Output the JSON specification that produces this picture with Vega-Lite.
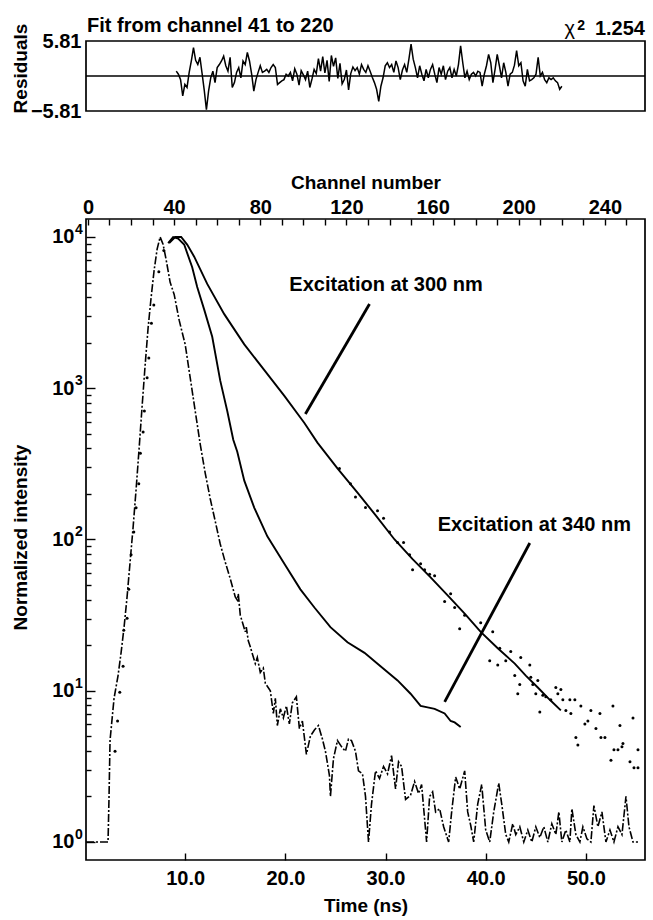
{
  "$schema": "https://vega.github.io/schema/vega-lite/v6.json",
  "background": "white",
  "padding": {"left": 10, "top": 15, "right": 2, "bottom": 2},
  "spacing": 50,
  "config": {
    "font": "Liberation Sans",
    "view": {"stroke": "black", "strokeWidth": 1.7},
    "axis": {
      "labelFont": "Liberation Sans", "labelFontSize": 20, "labelFontWeight": "bold", "labelColor": "black",
      "titleFont": "Liberation Sans", "titleFontSize": 19, "titleFontWeight": "bold", "titleColor": "black",
      "domain": false, "grid": false, "tickColor": "black", "tickWidth": 1.4,
      "labelOverlap": false, "labelBound": false, "labelFlush": false
    },
    "text": {"font": "Liberation Sans", "fontSize": 20, "fontWeight": "bold", "color": "black"}
  },
  "datasets": {
    "residuals": [
      {"channel":41,"r":0.8},{"channel":42,"r":0.3},{"channel":43,"r":-0.6},{"channel":44,"r":-3.3},{"channel":45,"r":-1.4},{"channel":46,"r":-1.9},{"channel":47,"r":0.6},{"channel":48,"r":2.5},{"channel":49,"r":4.7},{"channel":50,"r":2.6},
      {"channel":51,"r":1.9},{"channel":52,"r":3.1},{"channel":53,"r":0.4},{"channel":54,"r":-2.4},{"channel":55,"r":-5.6},{"channel":56,"r":-2.5},{"channel":57,"r":-0.3},{"channel":58,"r":0.8},{"channel":59,"r":-1.1},{"channel":60,"r":1.4},
      {"channel":61,"r":1.9},{"channel":62,"r":2.5},{"channel":63,"r":3.3},{"channel":64,"r":1.7},{"channel":65,"r":0.8},{"channel":66,"r":3.1},{"channel":67,"r":-1.9},{"channel":68,"r":-1.1},{"channel":69,"r":0.6},{"channel":70,"r":1.4},
      {"channel":71,"r":-0.3},{"channel":72,"r":2.5},{"channel":73,"r":1.9},{"channel":74,"r":3.9},{"channel":75,"r":2.5},{"channel":76,"r":0.3},{"channel":77,"r":-2.5},{"channel":78,"r":-0.6},{"channel":79,"r":0.6},{"channel":80,"r":1.7},
      {"channel":81,"r":0.6},{"channel":82,"r":0.8},{"channel":83,"r":1.1},{"channel":84,"r":0.6},{"channel":85,"r":1.4},{"channel":86,"r":1.9},{"channel":87,"r":1.4},{"channel":88,"r":-1.4},{"channel":89,"r":-1.1},{"channel":90,"r":-0.8},
      {"channel":91,"r":-0.6},{"channel":92,"r":0.3},{"channel":93,"r":0.0},{"channel":94,"r":0.6},{"channel":95,"r":-0.8},{"channel":96,"r":1.2},{"channel":97,"r":0.3},{"channel":98,"r":-1.5},{"channel":99,"r":0.9},{"channel":100,"r":0.2},
      {"channel":101,"r":-0.6},{"channel":102,"r":0.8},{"channel":103,"r":-1.9},{"channel":104,"r":-0.5},{"channel":105,"r":1.1},{"channel":106,"r":0.4},{"channel":107,"r":2.9},{"channel":108,"r":0.8},{"channel":109,"r":3.2},{"channel":110,"r":0.5},
      {"channel":111,"r":2.6},{"channel":112,"r":-0.9},{"channel":113,"r":3.4},{"channel":114,"r":1.6},{"channel":115,"r":3.0},{"channel":116,"r":-0.4},{"channel":117,"r":2.1},{"channel":118,"r":-1.3},{"channel":119,"r":-0.6},{"channel":120,"r":1.0},
      {"channel":121,"r":-2.3},{"channel":122,"r":0.4},{"channel":123,"r":1.5},{"channel":124,"r":0.9},{"channel":125,"r":1.4},{"channel":126,"r":0.3},{"channel":127,"r":1.9},{"channel":128,"r":1.1},{"channel":129,"r":0.6},{"channel":130,"r":1.7},
      {"channel":131,"r":0.8},{"channel":132,"r":-0.2},{"channel":133,"r":-1.1},{"channel":134,"r":-2.2},{"channel":135,"r":-4.2},{"channel":136,"r":-1.7},{"channel":137,"r":-0.3},{"channel":138,"r":1.7},{"channel":139,"r":2.2},{"channel":140,"r":1.4},
      {"channel":141,"r":1.9},{"channel":142,"r":0.6},{"channel":143,"r":2.5},{"channel":144,"r":1.4},{"channel":145,"r":-0.6},{"channel":146,"r":1.0},{"channel":147,"r":1.9},{"channel":148,"r":0.6},{"channel":149,"r":2.8},{"channel":150,"r":5.3},
      {"channel":151,"r":2.8},{"channel":152,"r":1.4},{"channel":153,"r":-0.3},{"channel":154,"r":1.7},{"channel":155,"r":0.3},{"channel":156,"r":-0.8},{"channel":157,"r":1.1},{"channel":158,"r":-0.3},{"channel":159,"r":1.1},{"channel":160,"r":1.9},
      {"channel":161,"r":0.3},{"channel":162,"r":-1.1},{"channel":163,"r":1.4},{"channel":164,"r":0.3},{"channel":165,"r":1.7},{"channel":166,"r":-0.6},{"channel":167,"r":0.8},{"channel":168,"r":1.4},{"channel":169,"r":-0.3},{"channel":170,"r":1.1},
      {"channel":171,"r":0.0},{"channel":172,"r":1.9},{"channel":173,"r":5.0},{"channel":174,"r":2.2},{"channel":175,"r":-0.3},{"channel":176,"r":0.8},{"channel":177,"r":-0.6},{"channel":178,"r":0.3},{"channel":179,"r":0.6},{"channel":180,"r":0.0},
      {"channel":181,"r":0.8},{"channel":182,"r":0.6},{"channel":183,"r":-1.7},{"channel":184,"r":0.3},{"channel":185,"r":1.7},{"channel":186,"r":3.6},{"channel":187,"r":2.2},{"channel":188,"r":-1.1},{"channel":189,"r":1.1},{"channel":190,"r":3.6},
      {"channel":191,"r":1.7},{"channel":192,"r":-0.3},{"channel":193,"r":2.2},{"channel":194,"r":0.6},{"channel":195,"r":-1.7},{"channel":196,"r":0.3},{"channel":197,"r":0.6},{"channel":198,"r":1.8},{"channel":199,"r":4.2},{"channel":200,"r":1.7},
      {"channel":201,"r":2.2},{"channel":202,"r":-0.8},{"channel":203,"r":-1.7},{"channel":204,"r":1.1},{"channel":205,"r":-0.8},{"channel":206,"r":-0.6},{"channel":207,"r":-0.3},{"channel":208,"r":0.3},{"channel":209,"r":3.1},{"channel":210,"r":0.0},
      {"channel":211,"r":0.6},{"channel":212,"r":-0.6},{"channel":213,"r":-1.1},{"channel":214,"r":-0.3},{"channel":215,"r":-0.6},{"channel":216,"r":-0.3},{"channel":217,"r":-0.8},{"channel":218,"r":-1.1},{"channel":219,"r":-2.2},{"channel":220,"r":-1.7}
    ],
    "lamp": [
      {"t":0.1,"v":1},{"t":2.3,"v":1},{"t":2.4,"v":2.0},{"t":2.5,"v":4.7},{"t":2.9,"v":8.9},{"t":3.3,"v":12.6},{"t":3.6,"v":17.8},{"t":3.9,"v":26.3},{"t":4.2,"v":41.7},{"t":4.5,"v":70.8},
      {"t":4.8,"v":120},{"t":5.1,"v":214},{"t":5.4,"v":398},{"t":5.7,"v":759},{"t":6.0,"v":1413},{"t":6.3,"v":2512},{"t":6.6,"v":3981},{"t":6.9,"v":6026},{"t":7.2,"v":8318},{"t":7.5,"v":10000},
      {"t":7.8,"v":8913},{"t":8.1,"v":7079},{"t":8.5,"v":5012},{"t":8.9,"v":4169},{"t":9.4,"v":2818},{"t":10.0,"v":1950},{"t":10.5,"v":1175},{"t":11.0,"v":708},{"t":11.5,"v":427},{"t":12.0,"v":275},
      {"t":12.5,"v":186},{"t":13.0,"v":132},{"t":13.5,"v":93.3},{"t":14.0,"v":70.8},{"t":14.5,"v":55},{"t":15.0,"v":41.7},{"t":15.2,"v":39.8},{"t":15.3,"v":43.7},{"t":15.5,"v":31.6},{"t":16.0,"v":24.5},
      {"t":16.1,"v":26.3},{"t":16.3,"v":21.4},{"t":16.5,"v":19.5},{"t":17.0,"v":15.1},{"t":17.2,"v":16.6},{"t":17.5,"v":13.2},{"t":17.8,"v":14.1},{"t":18.0,"v":11.2},{"t":18.5,"v":10},{"t":18.8,"v":7.08},
      {"t":19.0,"v":8.91},{"t":19.2,"v":5.89},{"t":19.5,"v":7.59},{"t":19.8,"v":6.61},{"t":20.1,"v":7.94},{"t":20.4,"v":6.03},{"t":20.7,"v":8.32},{"t":21.1,"v":9.12},{"t":21.4,"v":5.62},{"t":21.7,"v":6.31},
      {"t":22.1,"v":3.8},{"t":22.5,"v":5.01},{"t":22.9,"v":5.5},{"t":23.3,"v":5.89},{"t":23.7,"v":4.79},{"t":24.0,"v":3.98},{"t":24.4,"v":2.75},{"t":24.5,"v":2.0},{"t":24.8,"v":3.55},{"t":25.2,"v":4.68},
      {"t":25.6,"v":4.27},{"t":26.0,"v":3.98},{"t":26.3,"v":4.79},{"t":26.6,"v":4.68},{"t":27.0,"v":3.98},{"t":27.3,"v":2.95},{"t":27.7,"v":2.82},{"t":28.0,"v":2.0},{"t":28.3,"v":1},{"t":28.6,"v":1.78},
      {"t":29.0,"v":2.95},{"t":29.4,"v":2.63},{"t":29.8,"v":3.16},{"t":30.2,"v":2.82},{"t":30.6,"v":3.72},{"t":31.0,"v":2.24},{"t":31.3,"v":3.39},{"t":31.6,"v":3.16},{"t":32.0,"v":1.91},{"t":32.5,"v":2.04},
      {"t":32.9,"v":2.51},{"t":33.3,"v":2.09},{"t":33.6,"v":2.4},{"t":34.1,"v":1},{"t":34.4,"v":2.0},{"t":34.7,"v":2.14},{"t":35.0,"v":1.58},{"t":35.4,"v":1.66},{"t":35.8,"v":1.26},{"t":36.3,"v":1},
      {"t":36.6,"v":1.58},{"t":37.0,"v":2.69},{"t":37.4,"v":2.24},{"t":37.9,"v":2.95},{"t":38.2,"v":1.58},{"t":38.5,"v":1.29},{"t":38.8,"v":1},{"t":39.2,"v":1.78},{"t":39.6,"v":2.4},{"t":40.0,"v":1.2},
      {"t":40.4,"v":1},{"t":40.8,"v":1.58},{"t":41.3,"v":2.45},{"t":41.6,"v":1.78},{"t":42.0,"v":1.12},{"t":42.3,"v":1},{"t":42.7,"v":1.32},{"t":43.0,"v":1.12},{"t":43.4,"v":1.26},{"t":43.8,"v":1},
      {"t":44.2,"v":1.2},{"t":44.6,"v":1},{"t":45.0,"v":1.26},{"t":45.4,"v":1.07},{"t":45.8,"v":1.26},{"t":46.2,"v":1},{"t":46.6,"v":1.32},{"t":47.0,"v":1.12},{"t":47.3,"v":1.58},{"t":47.6,"v":1},
      {"t":48.0,"v":1.2},{"t":48.4,"v":1},{"t":48.6,"v":1.66},{"t":49.0,"v":1.12},{"t":49.4,"v":1},{"t":49.7,"v":1.26},{"t":50.1,"v":1.05},{"t":50.5,"v":1},{"t":50.8,"v":1.74},{"t":51.2,"v":1.26},
      {"t":51.6,"v":1.58},{"t":52.0,"v":1},{"t":52.4,"v":1.2},{"t":52.8,"v":1},{"t":53.2,"v":1.26},{"t":53.6,"v":1.12},{"t":54.0,"v":2.0},{"t":54.3,"v":1.26},{"t":54.7,"v":1},{"t":55.2,"v":1}
    ],
    "exc340": [
      {"t":8.3,"v":9120},{"t":8.8,"v":10000},{"t":9.3,"v":9772},{"t":9.9,"v":8913},{"t":10.7,"v":6310},{"t":11.2,"v":4677},{"t":11.9,"v":3311},{"t":12.7,"v":2188},{"t":13.5,"v":1122},{"t":14.2,"v":708},
      {"t":14.8,"v":457},{"t":15.2,"v":380},{"t":15.9,"v":245},{"t":16.9,"v":162},{"t":18.2,"v":105},{"t":19.9,"v":69.2},{"t":21.5,"v":46.8},{"t":22.9,"v":35.5},{"t":24.5,"v":26.3},{"t":26.2,"v":20.9},
      {"t":27.9,"v":17.8},{"t":29.5,"v":14.5},{"t":31.2,"v":11.7},{"t":32.5,"v":9.55},{"t":33.5,"v":7.94},{"t":34.2,"v":7.76},{"t":34.9,"v":7.59},{"t":35.9,"v":7.08},{"t":36.5,"v":6.31},{"t":36.9,"v":6.17},{"t":37.5,"v":5.75}
    ],
    "exc300": [
      {"t":8.4,"v":9120},{"t":9.0,"v":10000},{"t":9.6,"v":10000},{"t":10.2,"v":8913},{"t":10.9,"v":7413},{"t":12.2,"v":4898},{"t":13.9,"v":3090},{"t":15.9,"v":1950},{"t":17.9,"v":1318},{"t":19.9,"v":891},
      {"t":21.9,"v":589},{"t":23.2,"v":437},{"t":25.2,"v":295},{"t":27.2,"v":204},{"t":29.0,"v":145},{"t":30.9,"v":100},{"t":32.7,"v":74.1},{"t":34.5,"v":56.2},{"t":36.2,"v":42.7},{"t":37.9,"v":32.4},
      {"t":39.5,"v":24.5},{"t":41.2,"v":19.1},{"t":42.9,"v":15.1},{"t":44.0,"v":12.6},{"t":45.2,"v":10.5},{"t":46.4,"v":8.71},{"t":47.5,"v":7.41}
    ],
    "dots": [
      {"t":7.87,"v":8128},{"t":7.37,"v":5888},{"t":6.87,"v":3548},{"t":6.63,"v":2692},{"t":6.37,"v":1585},{"t":6.2,"v":1175},{"t":5.93,"v":708},{"t":5.8,"v":513},{"t":5.53,"v":372},{"t":5.37,"v":234},
      {"t":5.1,"v":162},{"t":4.87,"v":112},{"t":4.6,"v":79.4},{"t":4.37,"v":46.8},{"t":4.2,"v":30.2},{"t":3.87,"v":25.1},{"t":3.8,"v":14.5},{"t":3.47,"v":9.77},{"t":3.25,"v":6.31},{"t":3.0,"v":3.98},
      {"t":25.4,"v":295},{"t":26.5,"v":234},{"t":27.0,"v":191},{"t":28.0,"v":163},{"t":29.2,"v":155},{"t":29.8,"v":138},{"t":30.4,"v":112},{"t":31.2,"v":95.5},{"t":31.8,"v":95.5},{"t":32.4,"v":79.4},
      {"t":32.7,"v":63.1},{"t":33.5,"v":69.2},{"t":33.9,"v":63.1},{"t":34.4,"v":58.9},{"t":34.9,"v":57.5},{"t":35.9,"v":38.9},{"t":36.5,"v":43.7},{"t":36.9,"v":35.5},{"t":37.4,"v":25.7},{"t":37.9,"v":31.6},
      {"t":39.5,"v":28.2},{"t":40.7,"v":24.5},{"t":40.4,"v":15.8},{"t":41.4,"v":19.1},{"t":41.2,"v":14.8},{"t":42.5,"v":18.2},{"t":42.0,"v":15.8},{"t":42.9,"v":12.6},{"t":43.5,"v":16.6},{"t":43.4,"v":11.0},
      {"t":43.2,"v":9.55},{"t":44.4,"v":14.8},{"t":44.7,"v":11.0},{"t":44.5,"v":12.3},{"t":45.2,"v":11.7},{"t":45.0,"v":9.55},{"t":45.7,"v":9.33},{"t":45.4,"v":7.24},{"t":46.0,"v":9.12},{"t":46.5,"v":8.71},
      {"t":47.0,"v":10.5},{"t":47.2,"v":9.55},{"t":47.5,"v":10.2},{"t":47.7,"v":8.71},{"t":48.0,"v":7.41},{"t":48.4,"v":8.71},{"t":48.5,"v":7.08},{"t":48.9,"v":8.71},{"t":49.5,"v":7.94},{"t":49.9,"v":6.03},
      {"t":50.2,"v":6.31},{"t":50.5,"v":7.41},{"t":51.0,"v":5.62},{"t":51.4,"v":7.08},{"t":51.5,"v":4.9},{"t":51.9,"v":4.9},{"t":52.7,"v":7.94},{"t":53.4,"v":5.89},{"t":53.7,"v":4.47},{"t":54.7,"v":6.61},
      {"t":49.0,"v":4.9},{"t":49.2,"v":4.37},{"t":52.8,"v":4.07},{"t":53.2,"v":4.07},{"t":52.5,"v":3.47},{"t":54.4,"v":3.39},{"t":54.8,"v":3.09},{"t":55.2,"v":3.09},{"t":55.2,"v":4.07},{"t":53.6,"v":4.27}
    ],
    "labels": [
      {"t":20.4,"v":4820,"text":"Excitation at 300 nm"},
      {"t":35.2,"v":124.7,"text":"Excitation at 340 nm"}
    ],
    "pointers": [
      {"t":22.0,"v":676,"t2":28.4,"v2":3606},
      {"t":44.4,"v":94.8,"t2":35.9,"v2":8.43}
    ],
    "decades": [
      {"v":1,"exp":"0"},{"v":10,"exp":"1"},{"v":100,"exp":"2"},{"v":1000,"exp":"3"},{"v":10000,"exp":"4"}
    ]
  },
  "vconcat": [
    {
      "width": 559,
      "height": 70,
      "layer": [
        {
          "data": {"name": "residuals"},
          "mark": {"type": "line", "color": "black", "strokeWidth": 1.5},
          "encoding": {
            "x": {"field": "channel", "type": "quantitative", "scale": {"domain": [-0.9, 258.6], "nice": false, "zero": false}, "axis": null},
            "y": {"field": "r", "type": "quantitative", "scale": {"domain": [-5.81, 5.81], "nice": false, "zero": false},
                  "axis": {"values": [-5.81, 0, 5.81], "ticks": false, "labelPadding": 5,
                           "labelExpr": "datum.value == 0 ? '0' : (datum.value > 0 ? '5.81' : '\u22125.81')",
                           "title": "Residuals", "titleAngle": -90, "titleX": -66, "titleY": 27, "titleAlign": "center", "titleBaseline": "middle"}}
          }
        },
        {
          "data": {"values": [{}]},
          "mark": {"type": "rule", "color": "black", "strokeWidth": 1.6},
          "encoding": {"y": {"datum": 0}}
        },
        {
          "data": {"values": [{}]},
          "mark": {"type": "text", "align": "left", "baseline": "alphabetic", "dy": -9, "dx": 1},
          "encoding": {"x": {"datum": -0.9}, "y": {"datum": 5.81}, "text": {"value": "Fit from channel 41 to 220"}}
        },
        {
          "data": {"values": [{}]},
          "mark": {"type": "text", "align": "right", "baseline": "alphabetic", "dy": -6},
          "encoding": {"x": {"datum": 258.6}, "y": {"datum": 5.81}, "text": {"value": "1.254"}}
        },
        {
          "data": {"values": [{}]},
          "mark": {"type": "text", "align": "right", "baseline": "alphabetic", "dy": -11, "dx": -60, "fontSize": 14},
          "encoding": {"x": {"datum": 258.6}, "y": {"datum": 5.81}, "text": {"value": "2"}}
        },
        {
          "data": {"values": [{}]},
          "mark": {"type": "text", "align": "right", "baseline": "alphabetic", "dy": -6, "dx": -70, "fontWeight": "normal"},
          "encoding": {"x": {"datum": 258.6}, "y": {"datum": 5.81}, "text": {"value": "\u03c7"}}
        }
      ]
    },
    {
      "width": 559,
      "height": 641,
      "layer": [
        {
          "encoding": {
            "x": {"field": "t", "type": "quantitative", "scale": {"domain": [0.1, 55.9], "nice": false, "zero": false},
                  "axis": {"orient": "bottom", "values": [10, 20, 30, 40, 50], "format": ".1f", "tickSize": -7, "labelPadding": 15, "title": "Time (ns)", "titlePadding": 8}},
            "y": {"field": "v", "type": "quantitative", "title": "Normalized intensity", "scale": {"type": "log", "domain": [0.76, 13152], "nice": false},
                  "axis": {"values": [1,2,3,4,5,6,7,8,9,10,20,30,40,50,60,70,80,90,100,200,300,400,500,600,700,800,900,1000,2000,3000,4000,5000,6000,7000,8000,9000,10000],
                           "labelExpr": "indexof([1,10,100,1000,10000], datum.value) >= 0 ? '10' : ''",
                           "tickSize": {"condition": {"test": "indexof([1,10,100,1000,10000], datum.value) >= 0", "value": -9}, "value": -5},
                           "labelPadding": 21,
                           "titleAngle": -90, "titleX": -66, "titleY": 318, "titleAlign": "center", "titleBaseline": "middle"}}
          },
          "layer": [
            {"data": {"name": "lamp"}, "mark": {"type": "line", "color": "black", "strokeWidth": 1.6, "strokeDash": [8, 2, 2, 2], "clip": true}},
            {"data": {"name": "exc340"}, "mark": {"type": "line", "color": "black", "strokeWidth": 1.9, "clip": true}},
            {"data": {"name": "exc300"}, "mark": {"type": "line", "color": "black", "strokeWidth": 1.9, "clip": true}},
            {"data": {"name": "dots"}, "mark": {"type": "point", "filled": true, "color": "black", "size": 9, "opacity": 1, "clip": true}},
            {"data": {"name": "pointers"}, "mark": {"type": "rule", "color": "black", "strokeWidth": 2.8},
             "encoding": {"x2": {"field": "t2"}, "y2": {"field": "v2"}}},
            {"data": {"name": "labels"}, "mark": {"type": "text", "align": "left", "baseline": "middle"},
             "encoding": {"text": {"field": "text"}}}
          ]
        },
        {
          "data": {"name": "decades"},
          "mark": {"type": "text", "align": "left", "baseline": "alphabetic", "fontSize": 14, "dx": -11, "dy": -3},
          "encoding": {
            "x": {"datum": 0.1, "type": "quantitative", "scale": {"domain": [0.1, 55.9], "nice": false, "zero": false}, "axis": null},
            "y": {"field": "v", "type": "quantitative", "title": "Normalized intensity"},
            "text": {"field": "exp"}
          }
        },
        {
          "data": {"values": [{}]},
          "mark": {"type": "point", "opacity": 0},
          "encoding": {
            "x": {"datum": 0, "type": "quantitative", "scale": {"domain": [-0.9, 258.6], "nice": false, "zero": false},
                  "axis": {"orient": "top", "values": [0,10,20,30,40,50,60,70,80,90,100,110,120,130,140,150,160,170,180,190,200,210,220,230,240,250],
                           "labelExpr": "datum.value % 40 == 0 ? '' + datum.value : ''", "tickSize": -6, "labelPadding": 8,
                           "title": "Channel number", "titlePadding": 5}}
          }
        }
      ],
      "resolve": {"scale": {"x": "independent"}}
    }
  ]
}
